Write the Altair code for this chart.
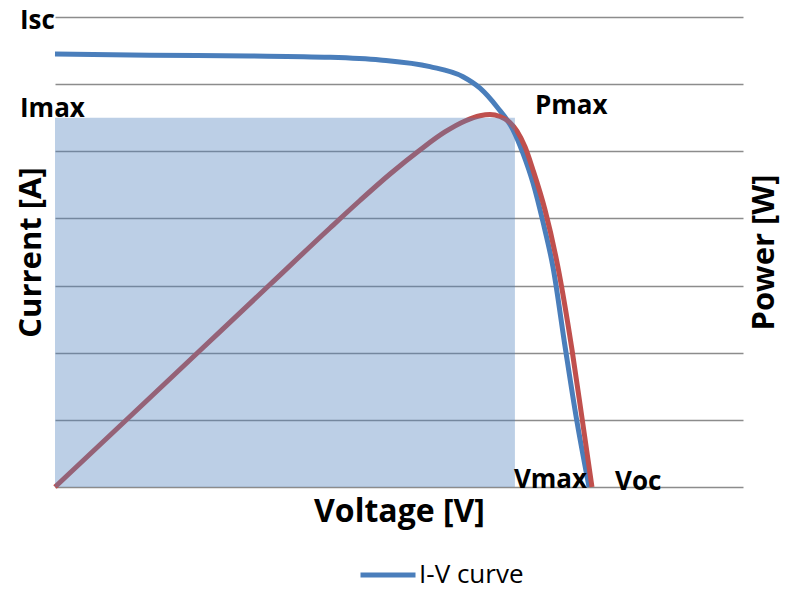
import altair as alt
import pandas as pd

# ---- data ----
# I-V curve: voltage [V], current [A]
iv_voltage = [0, 5.52, 11.34, 15.99, 18.90, 21.80, 23.72, 24.71, 25.70, 26.63,
              27.21, 27.79, 28.37, 28.95, 29.65, 30.29, 31.05]
iv_current = [6.45, 6.43, 6.42, 6.40, 6.36, 6.26, 6.11, 5.94, 5.66, 5.32,
              4.97, 4.53, 3.95, 3.28, 2.10, 1.06, 0.0]

# P-V curve: voltage [V], power [W]
pv_voltage = [0, 4.36, 8.43, 12.50, 15.99, 17.73, 19.48, 21.22, 22.67, 23.84,
              24.71, 25.29, 25.87, 26.45, 26.86, 27.33, 27.79, 28.49, 29.24,
              30.06, 30.64, 31.22]
pv_power = [0, 21.00, 40.66, 60.32, 77.15, 85.34, 93.24, 100.39, 105.75, 109.02,
            110.59, 110.96, 110.37, 108.58, 106.05, 101.28, 94.43, 82.51, 65.53,
            40.81, 20.55, 0.0]

isc = 6.45
imax = 5.50
vmax = 26.74
voc = 31.22

v_domain = [0, 40]
i_domain = [0, 7]
p_domain = [0, 140]
i_grid = [0, 1, 2, 3, 4, 5, 6, 7]

FONT = "Open Sans"
BLUE = "#4a7ebb"
RED = "#c0504d"

iv = pd.DataFrame({"V": iv_voltage, "I": iv_current, "series": "I-V curve"})
pv = pd.DataFrame({"V": pv_voltage, "P": pv_power})
rect = pd.DataFrame({"v0": [0.0], "v1": [vmax], "i0": [0.0], "i1": [imax]})

xs = alt.Scale(domain=v_domain, nice=False, zero=False)
ys = alt.Scale(domain=i_domain, nice=False, zero=False)
ps = alt.Scale(domain=p_domain, nice=False, zero=False)

x_axis = alt.Axis(
    title="Voltage [V]", labels=False, ticks=False, domain=False, grid=False,
    titleFont=FONT, titleFontSize=32, titleFontWeight="bold", titleColor="black",
    titlePadding=9)

iv_line = alt.Chart(iv).mark_line(strokeWidth=5, interpolate="monotone").encode(
    x=alt.X("V:Q", scale=xs, axis=x_axis),
    y=alt.Y("I:Q", scale=ys, axis=alt.Axis(
        title="Current [A]", labels=False, ticks=False, domain=False,
        values=i_grid, grid=True, gridColor="#8c8c8c", gridWidth=1.3,
        titleFont=FONT, titleFontSize=31, titleFontWeight="bold", titleColor="black",
        titlePadding=8)),
    color=alt.Color("series:N", scale=alt.Scale(domain=["I-V curve"], range=[BLUE]),
                    legend=alt.Legend(orient="none", legendX=303, legendY=528, title=None,
                                      symbolType="stroke", symbolStrokeWidth=5,
                                      symbolSize=3025, labelFont=FONT, labelFontSize=26,
                                      labelColor="black", labelOffset=1, padding=0)),
)

pv_line = alt.Chart(pv).mark_line(strokeWidth=5, interpolate="monotone", color=RED).encode(
    x=alt.X("V:Q", scale=xs, axis=x_axis),
    y=alt.Y("P:Q", scale=ps, axis=alt.Axis(
        orient="right", title="Power [W]", labels=False, ticks=False, domain=False,
        grid=False, titleAngle=270, titleBaseline="top", titleFont=FONT,
        titleFontSize=31, titleFontWeight="bold", titleColor="black", titlePadding=6)),
)

area = alt.Chart(rect).mark_rect(color="#4f81bd", opacity=0.38).encode(
    x=alt.X("v0:Q", scale=xs, axis=x_axis),
    x2="v1:Q",
    y=alt.Y("i0:Q", scale=ys, axis=None),
    y2="i1:Q",
)

# label, anchor voltage, anchor current, pixel offsets
labels_spec = [
    ("Isc", 0.0, isc, -35, -25),
    ("Imax", 0.0, imax, -35, -1),
    ("Pmax", vmax, imax, 20, -4),
    ("Vmax", vmax, 0.0, -1, 1),
    ("Voc", voc, 0.0, 23, 3),
]

label_layers = []
for txt, v, i, dx, dy in labels_spec:
    df = pd.DataFrame({"V": [v], "I": [i], "t": [txt]})
    label_layers.append(
        alt.Chart(df).mark_text(font=FONT, fontSize=26, fontWeight="bold", color="black",
                                align="left", baseline="alphabetic", dx=dx, dy=dy).encode(
            x=alt.X("V:Q", scale=xs, axis=x_axis),
            y=alt.Y("I:Q", scale=ys, axis=None),
            text="t:N",
        )
    )

chart = alt.layer(iv_line, pv_line, area, *label_layers).resolve_scale(
    y="independent"
).properties(
    width=688, height=470,
    autosize=alt.AutoSizeParams(type="none"),
    padding={"left": 47, "top": 9, "right": 40, "bottom": 97},
).configure_view(stroke=None)

chart.save("out.html", embed_options={"renderer": "svg", "actions": False})
